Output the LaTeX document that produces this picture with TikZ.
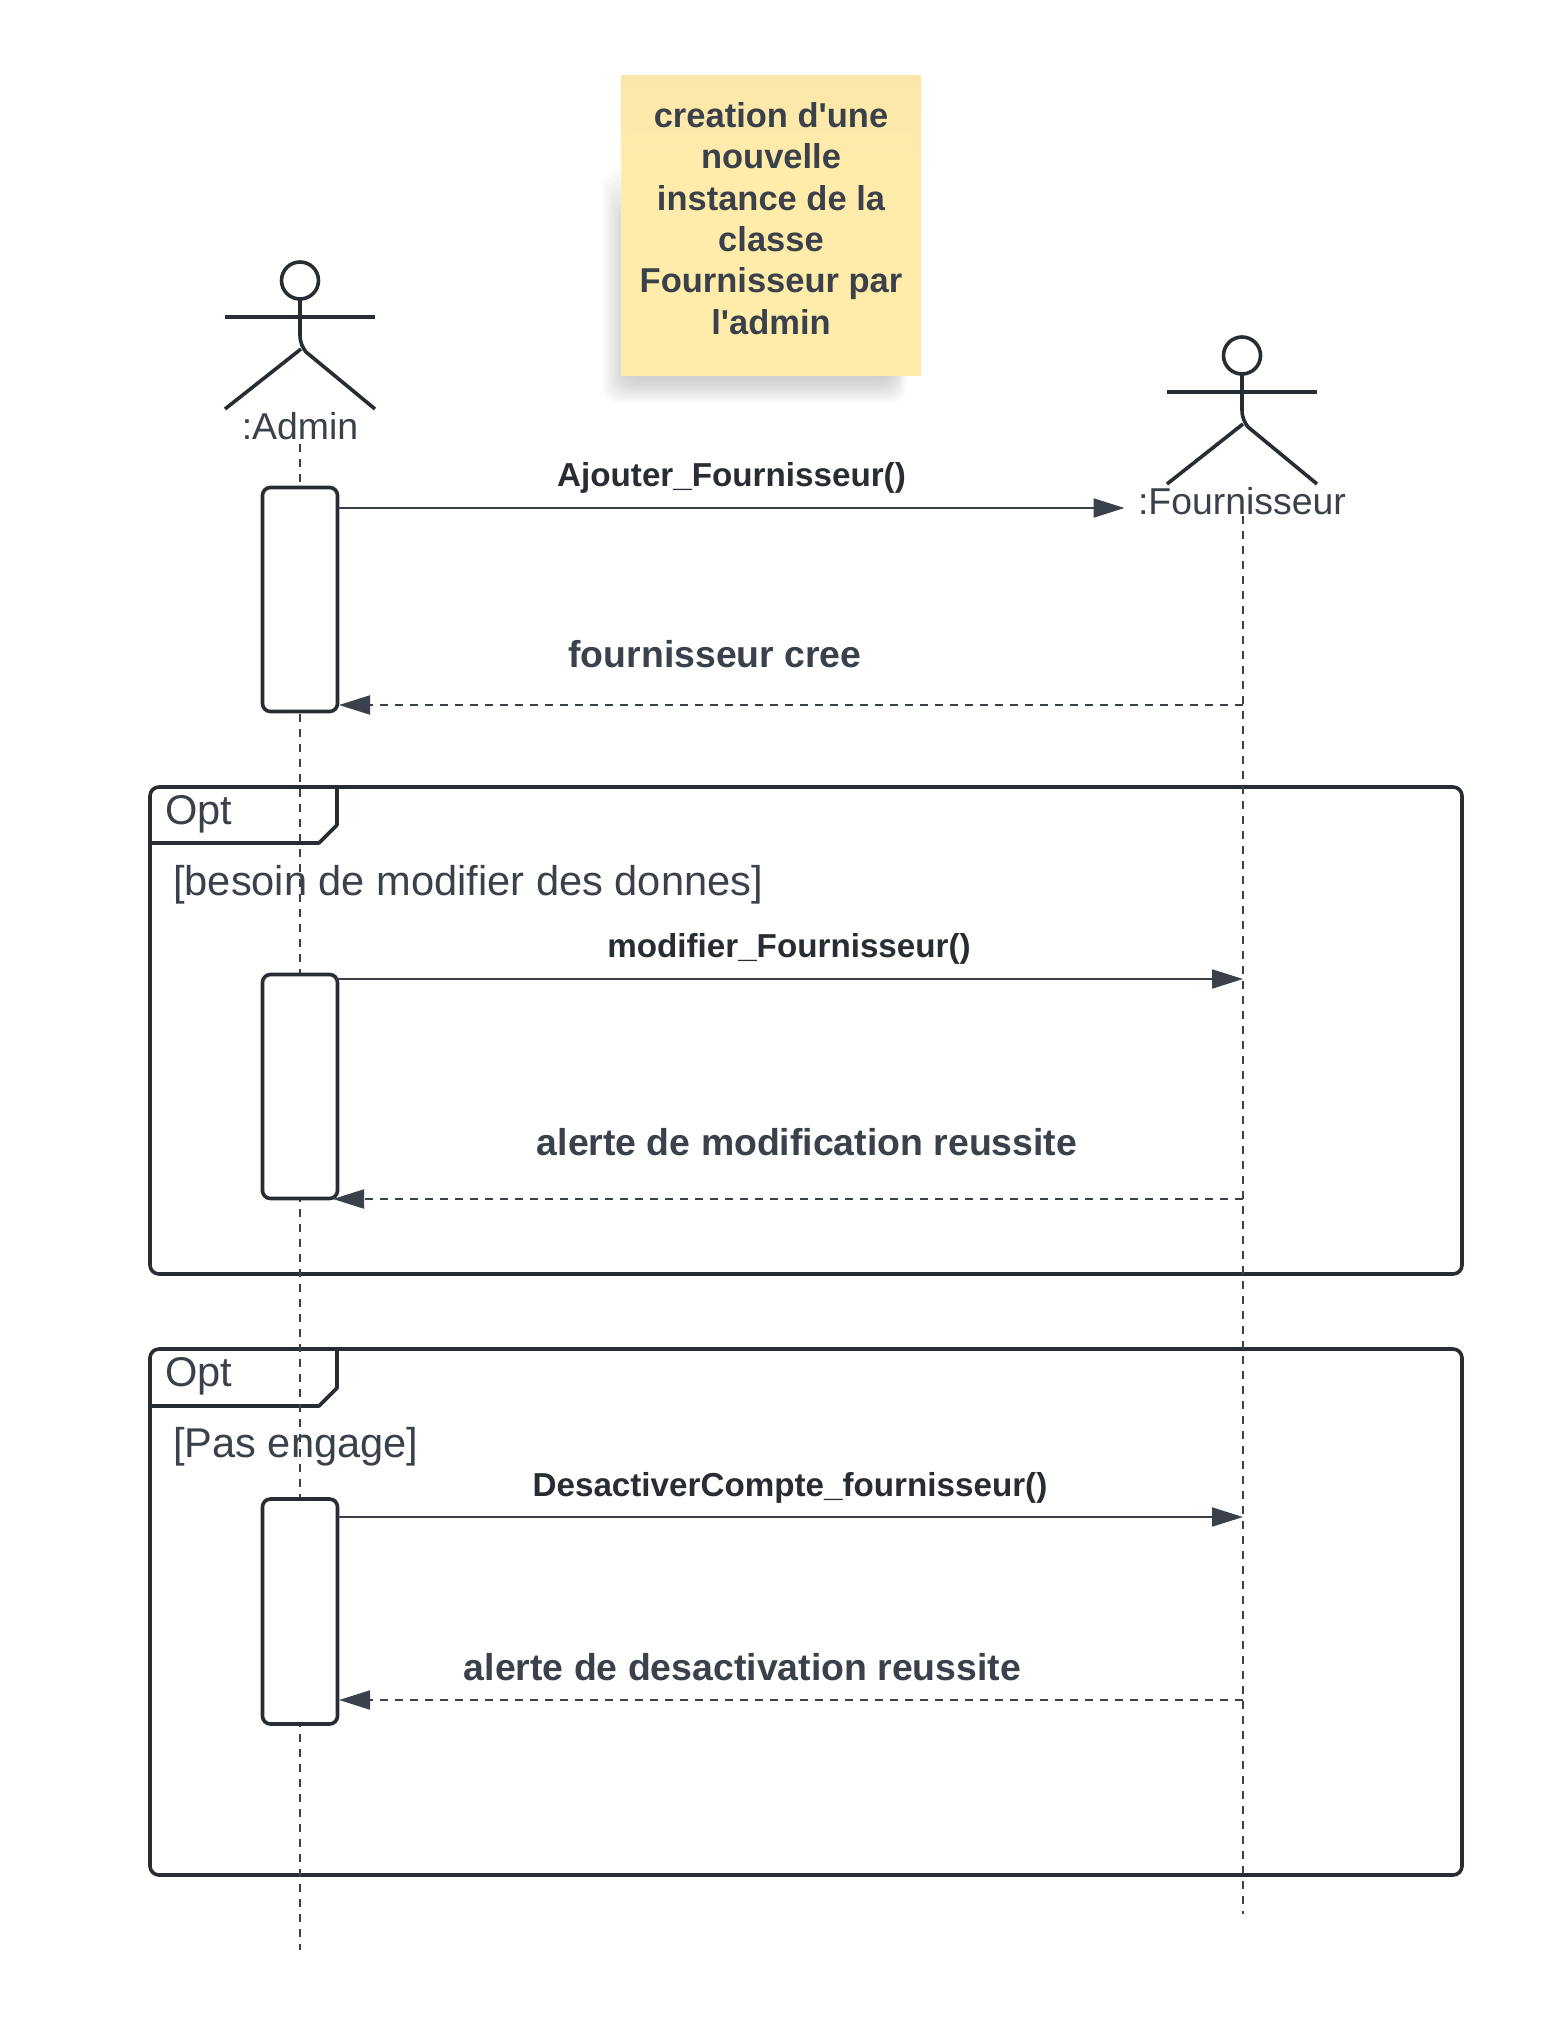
\documentclass[tikz,border=0pt]{standalone}
\usepackage{fontspec}
\setmainfont{Liberation Sans}
\newfontfamily\notefont{Liberation Sans}
\usetikzlibrary{arrows.meta}
\definecolor{ink}{HTML}{282C33}
\definecolor{txt}{HTML}{3A414A}
\definecolor{notetop}{HTML}{FBE7A8}
\definecolor{notebot}{HTML}{FFEBAA}
\newcommand{\fsz}[1]{\fontsize{#1}{#1}\selectfont}
\tikzset{
  lifeline/.style={draw=txt,line width=1.8pt,dash pattern=on 8pt off 7pt},
  frameline/.style={draw=ink,line width=3.6pt,line join=round},
  actorline/.style={draw=ink,line width=3.6pt},
  activation/.style={draw=ink,fill=white,line width=3.6pt,rounded corners=8pt,minimum width=75pt,inner sep=0pt},
  sync/.style={draw=txt,line width=2pt,-{Triangle[length=31pt,width=19pt,fill=txt]}},
  reply/.style={draw=txt,line width=2pt,dash pattern=on 8pt off 7pt,-{Triangle[length=31pt,width=19pt,fill=txt]}},
  msgcall/.style={anchor=base,inner sep=0pt,text=ink,font=\fsz{33.2}\bfseries},
  msgback/.style={anchor=base,inner sep=0pt,text=txt,font=\fsz{37.4}\bfseries},
  actorlabel/.style={anchor=base,inner sep=0pt,text=txt,font=\fsz{37.4}},
  fragtext/.style={anchor=base west,inner sep=0pt,text=txt,font=\fsz{41.6}},
}
\begin{document}
\begin{tikzpicture}[x=1pt,y=-1pt]
\useasboundingbox (0,0) rectangle (1543,2025);
% note shadow
\foreach \g in {0,2,...,24}{
  \fill[black,opacity=0.014,rounded corners=14pt] (603+\g,170+\g*2.5) rectangle (906-\g*0.6,403-\g);
}
\node[minimum width=300pt,minimum height=300pt,inner sep=0pt,fill=notebot] (noteBox) at (771,226) {};
\shade[top color=notetop,bottom color=notebot] (noteBox.north west) rectangle ([yshift=-90pt]noteBox.north east);
\node[inner sep=0pt,align=center,text=txt,font=\fontsize{34.5}{41.4}\selectfont\notefont\bfseries] (noteText) at (771,218.5) {creation d'une\\nouvelle\\instance de la\\classe\\Fournisseur par\\l'admin};
% frames
\draw[frameline,rounded corners=9pt] (150,787) rectangle (1462,1274);
\draw[frameline] (337,787) -- (337,825) -- (319,843) -- (150,843);
\draw[frameline,rounded corners=9pt] (150,1349) rectangle (1462,1875);
\draw[frameline] (337,1349) -- (337,1388) -- (319,1406) -- (150,1406);
\node[fragtext] (opt1) at (165,824) {Opt};
\node[fragtext] (guard1) at (173,895) {[besoin de modifier des donnes]};
\node[fragtext] (opt2) at (165,1386) {Opt};
\node[fragtext] (guard2) at (173,1457) {[Pas engage]};
% actors
\node[actorlabel] (adminLabel) at (300,439) {:Admin};
\node[actorlabel] (fournLabel) at (1242,514) {:Fournisseur};
\coordinate (adminTop) at (300,444);
\coordinate (adminEnd) at (300,1950);
\coordinate (fournTop) at (1243,516);
\coordinate (fournEnd) at (1243,1914);
\draw[lifeline] (adminTop) -- (adminEnd);
\draw[lifeline] (fournTop) -- (fournEnd);
\foreach \cx/\cy in {300/0,1242/75}{
  \begin{scope}[shift={(\cx,\cy)}]
    \draw[actorline] (0,280.5) circle[radius=18.5pt];
    \draw[actorline] (-75,317) -- (75,317);
    \draw[actorline,line join=round] (0,299) -- (0,335) .. controls (0,343) and (3,348) .. (6,352) -- (75,409);
    \draw[actorline] (1,349) -- (-75,409);
  \end{scope}
}
% activations
\node[activation,minimum height=224pt] (act1) at (300,599.5) {};
\node[activation,minimum height=224pt] (act2) at (300,1086.5) {};
\node[activation,minimum height=225pt] (act3) at (300,1611.5) {};
% message ends
\coordinate (m1a) at (338,508);
\coordinate (m1b) at (1124.5,508);
\coordinate (m2a) at (1243,705);
\coordinate (m2b) at (339,705);
\coordinate (m3a) at (336,979);
\coordinate (m3b) at (1243,979);
\coordinate (m4a) at (1243,1199);
\coordinate (m4b) at (333,1199);
\coordinate (m5a) at (338,1517);
\coordinate (m5b) at (1243,1517);
\coordinate (m6a) at (1243,1700);
\coordinate (m6b) at (339,1700);
\draw[sync] (m1a) -- (m1b);
\draw[reply] (m2a) -- (m2b);
\draw[sync] (m3a) -- (m3b);
\draw[reply] (m4a) -- (m4b);
\draw[sync] (m5a) -- (m5b);
\draw[reply] (m6a) -- (m6b);
\node[msgcall] (l1) at (731.5,486) {Ajouter\_Fournisseur()};
\node[msgback] (l2) at (715,667) {fournisseur cree};
\node[msgcall] (l3) at (789,957) {modifier\_Fournisseur()};
\node[msgback] (l4) at (807,1155) {alerte de modification reussite};
\node[msgcall] (l5) at (790,1496) {DesactiverCompte\_fournisseur()};
\node[msgback] (l6) at (742.5,1680) {alerte de desactivation reussite};
\end{tikzpicture}
\end{document}
